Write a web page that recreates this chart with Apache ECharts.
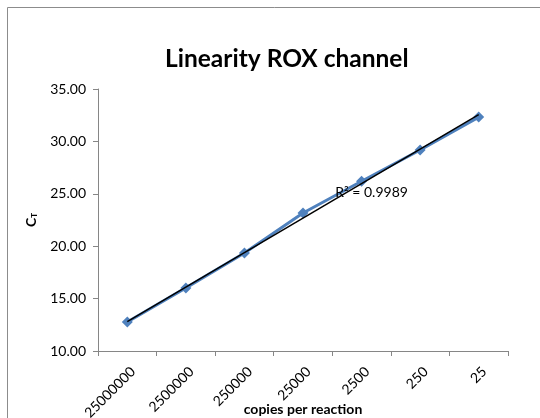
<!DOCTYPE html>
<html><head><meta charset="utf-8">
<script src="https://cdn.jsdelivr.net/npm/echarts@6/dist/echarts.min.js"></script>
<style>html,body{margin:0;padding:0;background:#fff}#c{width:540px;height:418px}</style>
</head><body><div id="c"></div>
<script>
const categories = ['25000000','2500000','250000','25000','2500','250','25'];
const ctValues = [12.77, 16.02, 19.35, 23.17, 26.2, 29.18, 32.32];
const trendEnds = [12.8, 32.55];
const yTicks = {min: 10, max: 35, interval: 5};
const r2Label = 'R² = 0.9989';

const chart = echarts.init(document.getElementById('c'));
const font = 'Lato, "Open Sans", sans-serif';
chart.setOption({
  animation: false,
  graphic: [{type:'rect', shape:{x:7.5,y:7.5,width:560,height:440}, style:{fill:'none', stroke:'#8c8c8c', lineWidth:1}}],
  title: {text:'Linearity ROX channel', left:165, top:47, textStyle:{fontFamily:font, fontWeight:'bold', fontSize:24.5, color:'#000'}, padding:0, itemGap:0},
  grid: {left:98, right:32, top:89, bottom:67, outerBoundsMode:'none', containLabel:false},
  xAxis: {
    type:'category', data:categories, boundaryGap:true,
    axisLine:{lineStyle:{color:'#868686'}},
    axisTick:{show:true, length:5, lineStyle:{color:'#868686'}},
    axisLabel:{rotate:45, fontFamily:font, fontSize:14, color:'#000', margin:24, padding:[0,-8,0,0], interval:0},
    name:'copies per reaction', nameLocation:'middle', nameGap:51, nameMoveOverlap:false,
    nameTextStyle:{fontFamily:font, fontWeight:'bold', fontSize:14, color:'#000'}
  },
  yAxis: {
    type:'value', min:yTicks.min, max:yTicks.max, interval:yTicks.interval,
    splitLine:{show:false},
    axisLine:{show:true, lineStyle:{color:'#868686'}},
    axisTick:{show:true, length:5, lineStyle:{color:'#868686'}},
    axisLabel:{formatter: v => v.toFixed(2), fontFamily:font, fontSize:14, color:'#000', margin:12},
    name:'C{s|T}', nameLocation:'middle', nameGap:60, nameRotate:90, nameMoveOverlap:false,
    nameTextStyle:{fontFamily:font, fontWeight:'bold', fontSize:14, color:'#000', rich:{s:{fontSize:8, fontWeight:'bold', verticalAlign:'bottom', padding:[6,0,0,0]}}}
  },
  series: [
    {type:'line', data:ctValues, symbol:'diamond', symbolSize:11, lineStyle:{color:'#4F81BD', width:3}, itemStyle:{color:'#4F81BD'}, z:2},
    {type:'line', data:[[0,trendEnds[0]],[6,trendEnds[1]]], symbol:'none', lineStyle:{color:'#000', width:1.5}, z:3,
     markPoint:{symbol:'rect', symbolSize:0, data:[{coord:[4, 25.15], label:{show:true, formatter:r2Label, fontFamily:font, fontSize:14, color:'#000', offset:[10,0]}}]}}
  ]
});
</script></body></html>
